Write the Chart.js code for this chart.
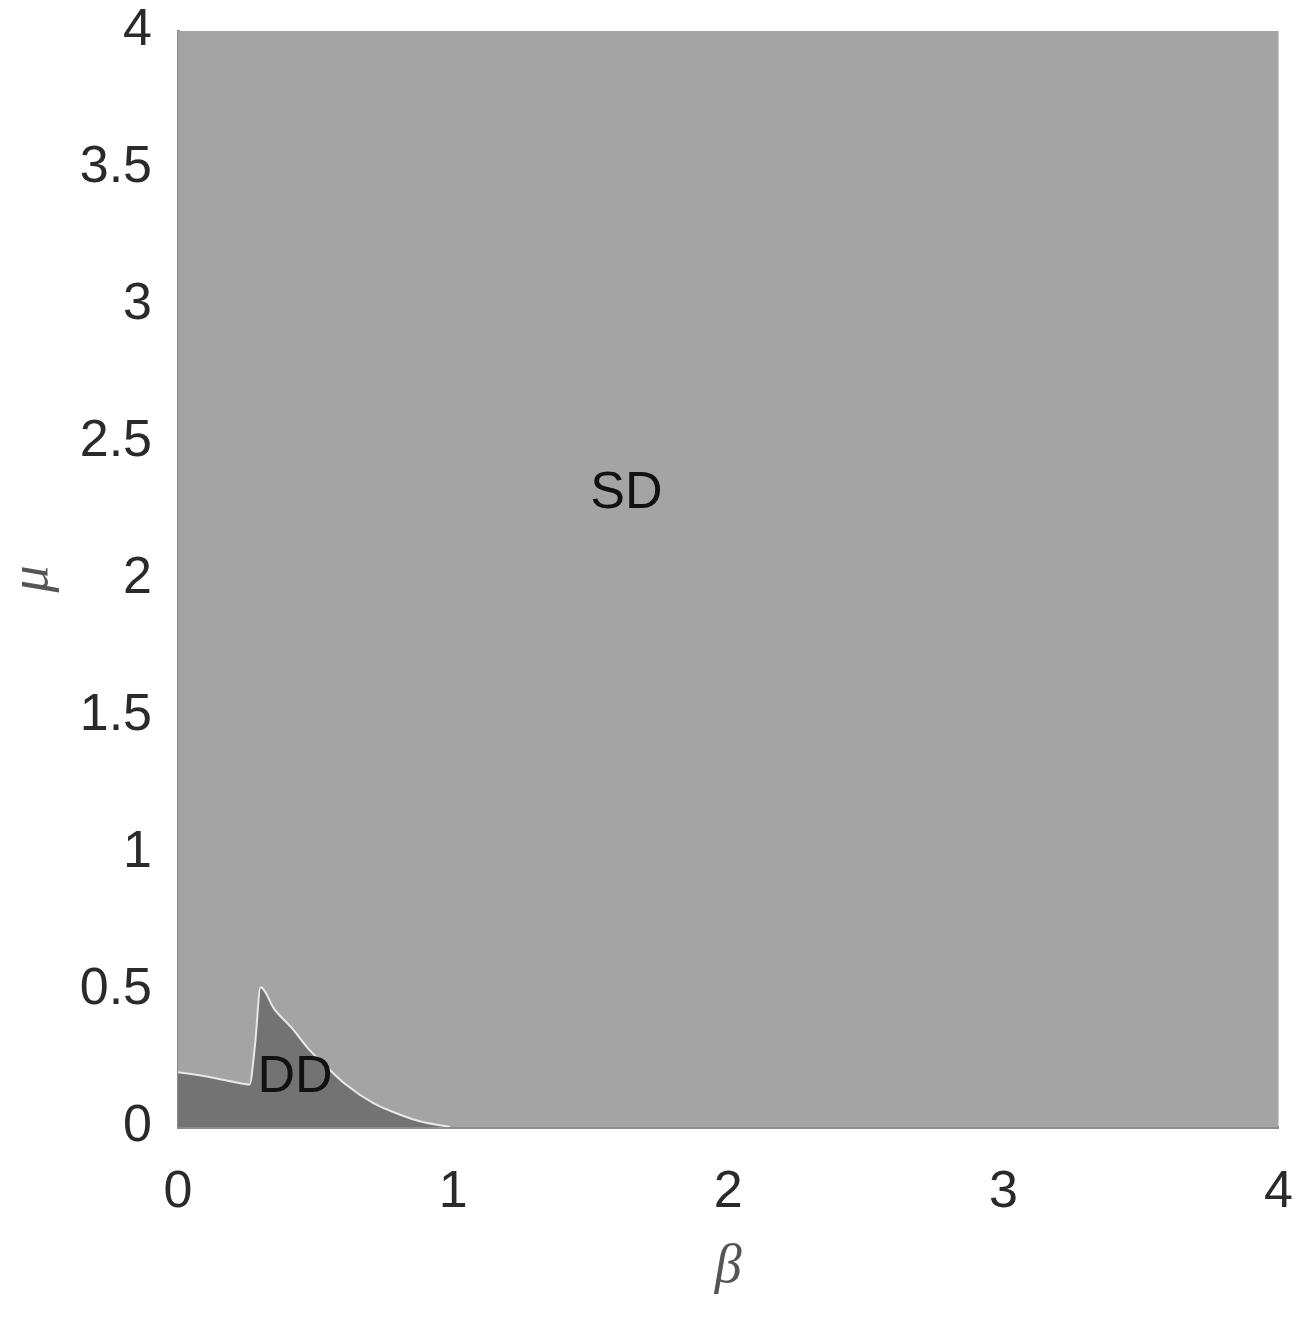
<!DOCTYPE html>
<html>
<head>
<meta charset="utf-8">
<script src="https://cdn.jsdelivr.net/npm/chart.js@4"></script>
<style>
  html, body { margin: 0; padding: 0; background: #fff; overflow: hidden; }
  #wrap { width: 1319px; height: 1322px; }
</style>
</head>
<body>
<div id="wrap"><canvas id="phase"></canvas></div>
<script>
// DD / SD boundary (beta, mu)
const boundaryBeta = [0, 0.10, 0.20, 0.26, 0.28, 0.30, 0.35, 0.415, 0.47, 0.54, 0.61, 0.71, 0.81, 0.89, 0.99];
const boundaryMu   = [0.20, 0.185, 0.165, 0.155, 0.30, 0.51, 0.43, 0.36, 0.29, 0.22, 0.155, 0.087, 0.044, 0.018, 0];

const xTicks = [0, 1, 2, 3, 4];
const yTicks = [0, 0.5, 1, 1.5, 2, 2.5, 3, 3.5, 4];

const regionLabels = [
  { text: 'SD', beta: 1.63, mu: 2.31 },
  { text: 'DD', beta: 0.425, mu: 0.18 }
];

const boundaryPoints = boundaryBeta.map((b, i) => ({ x: b, y: boundaryMu[i] }));

// Light gray background for the whole plot area, and region names on top.
const phasePlugin = {
  id: 'phasePlugin',
  beforeDatasetsDraw(chart) {
    const { ctx, chartArea: a } = chart;
    ctx.save();
    ctx.fillStyle = '#a4a4a4';
    ctx.fillRect(a.left, a.top, a.right - a.left, a.bottom - a.top);
    ctx.restore();
  },
  afterDatasetsDraw(chart) {
    const { ctx, scales } = chart;
    ctx.save();
    ctx.fillStyle = '#111';
    ctx.font = '52px "Liberation Sans", Arial, sans-serif';
    ctx.textAlign = 'center';
    ctx.textBaseline = 'middle';
    regionLabels.forEach(l => {
      ctx.fillText(l.text, scales.x.getPixelForValue(l.beta), scales.y.getPixelForValue(l.mu));
    });
    ctx.restore();
  }
};

const tickFontX = { family: '"Liberation Sans", Arial, sans-serif', size: 52 };
const tickFontY = { family: '"Liberation Sans", Arial, sans-serif', size: 52, lineHeight: 0.5 };
const titleFont = { family: '"Liberation Serif", "Times New Roman", serif', size: 54, style: 'italic' };

new Chart(document.getElementById('phase'), {
  type: 'scatter',
  data: {
    datasets: [{
      data: boundaryPoints,
      showLine: true,
      fill: 'origin',
      backgroundColor: '#737373',
      borderColor: '#e8e8e8',
      borderWidth: 2,
      pointRadius: 0,
      cubicInterpolationMode: 'monotone'
    }]
  },
  options: {
    responsive: true,
    maintainAspectRatio: false,
    animation: false,
    layout: { padding: { top: 0, right: 0, left: 0, bottom: 0 } },
    plugins: { legend: { display: false }, tooltip: { enabled: false } },
    scales: {
      x: {
        type: 'linear',
        min: 0,
        max: 4,
        afterBuildTicks: s => { s.ticks = xTicks.map(v => ({ value: v })); },
        afterFit: s => { s.height = 195; },
        grid: { display: false },
        border: { display: true, color: '#8c8c8c', width: 3 },
        ticks: { font: tickFontX, color: '#2a2a2a', padding: 26, maxRotation: 0, callback: v => String(v) },
        title: { display: true, text: 'β', font: titleFont, color: '#555', padding: { top: 0, bottom: 22 } }
      },
      y: {
        type: 'linear',
        min: 0,
        max: 4,
        afterBuildTicks: s => { s.ticks = yTicks.map(v => ({ value: v })); },
        afterFit: s => { s.width = 178; },
        grid: { display: false },
        border: { display: true, color: '#8c8c8c', width: 3 },
        ticks: { font: tickFontY, color: '#2a2a2a', padding: 18, callback: v => String(v) },
        title: { display: true, text: 'μ', font: titleFont, color: '#555', padding: { top: 0, bottom: 0 } }
      }
    }
  },
  plugins: [phasePlugin]
});
</script>
</body>
</html>
